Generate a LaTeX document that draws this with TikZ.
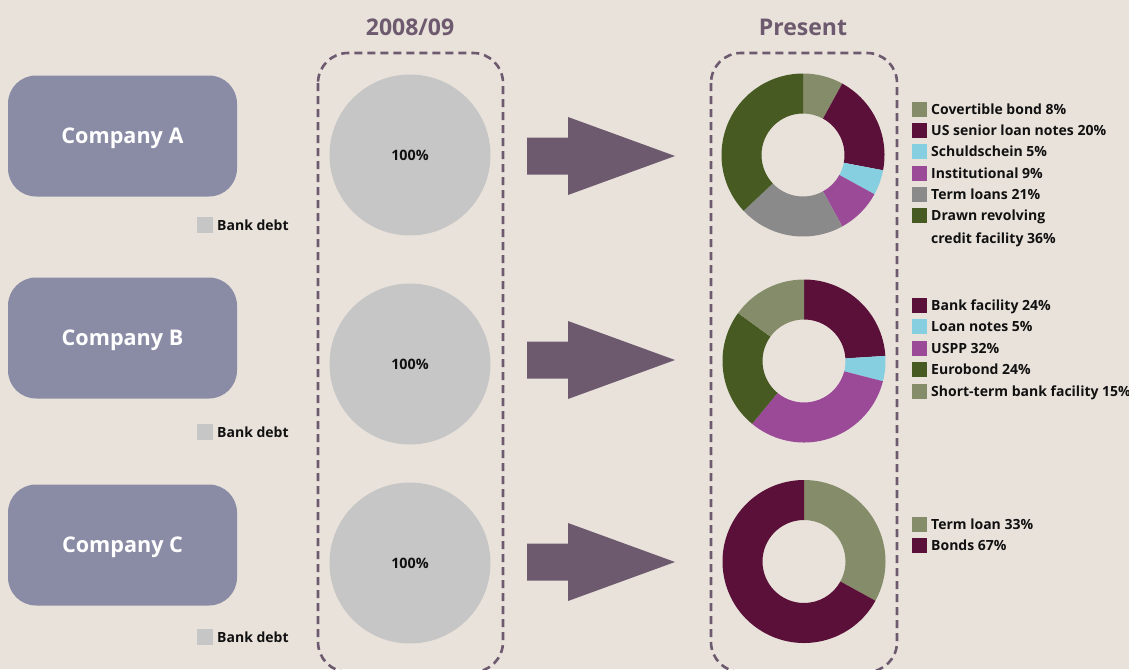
\documentclass[tikz,border=0pt]{standalone}
\usepackage{fontspec}
\setmainfont{Open Sans}
\usetikzlibrary{calc}
\definecolor{bg}{HTML}{E9E2DB}
\definecolor{compbox}{HTML}{8A8CA6}
\definecolor{arrowc}{HTML}{6E5A6E}
\definecolor{dashc}{HTML}{6E5A6E}
\definecolor{bankgray}{HTML}{C6C6C6}
\definecolor{olivec}{HTML}{848C69}
\definecolor{maroonc}{HTML}{5A1038}
\definecolor{lightbluec}{HTML}{85CFE0}
\definecolor{purpc}{HTML}{9B4A98}
\definecolor{midgrayc}{HTML}{8A8A8A}
\definecolor{darkgreenc}{HTML}{465A22}
\definecolor{titlec}{HTML}{6E5A6E}
\definecolor{textc}{HTML}{111111}

\newcommand{\seg}[4]{%
  \fill[#4] ($(#1)+({-90+3.6*#2}:81.5)$) arc[start angle={-90+3.6*#2}, end angle={-90+3.6*#3}, radius=81.5]
    -- ($(#1)+({-90+3.6*#3}:41.5)$) arc[start angle={-90+3.6*#3}, end angle={-90+3.6*#2}, radius=41.5] -- cycle;}
\newcommand{\legitem}[3]{%
  \fill[#2] (912,{#1-7.5}) rectangle ++(15,15);
  \node[legtext] at (931,{#1+5}) {#3};}
\newcommand{\bigarrow}[1]{%
  \fill[arrowc] (527,{#1-18.5}) -- (568,{#1-18.5}) -- (568,{#1-39}) -- (675,{#1}) -- (568,{#1+39}) -- (568,{#1+18.5}) -- (527,{#1+18.5}) -- cycle;}

\tikzset{
  company/.style={fill=compbox, rounded corners=28pt, minimum width=229pt, minimum height=121pt,
    text=white, font=\bfseries\fontsize{21.6}{24}\selectfont, inner sep=0pt,
    text height=15.4pt, text depth=0pt},
  bankcircle/.style={circle, fill=bankgray, minimum size=161pt, inner sep=0pt,
    font=\bfseries\fontsize{14.3}{16}\selectfont, text=textc, text height=10.2pt, text depth=0pt},
  donut/.style={circle, minimum size=163pt, inner sep=0pt},
  dashbox/.style={draw=dashc, line width=2.6pt, dash pattern=on 8pt off 5pt, rounded corners=30pt},
  title/.style={text=titlec, font=\bfseries\fontsize{23}{26}\selectfont, inner sep=0pt,
    text height=16.4pt, text depth=0pt},
  legtext/.style={anchor=base west, inner sep=0pt, text=textc, font=\bfseries\fontsize{14}{16}\selectfont},
}

\begin{document}
\begin{tikzpicture}[x=1pt,y=-1pt]
\useasboundingbox (0,0) rectangle (1129,669);
\clip (0,0) rectangle (1129,669);
\fill[bg] (0,0) rectangle (1129,669);

% titles
\node[title] (t1) at (410,27) {2008/09};
\node[title] (t2) at (803,27) {Present};

% dashed frames
\draw[dashbox] (318,53) rectangle (503,672);
\draw[dashbox] (711,53) rectangle (897,672);

% companies
\node[company] (cA) at (122.5,136) {Company A};
\node[company] (cB) at (122.5,338) {Company B};
\node[company] (cC) at (122.5,545) {Company C};

% bank debt legends
\foreach \yy in {225,432,637}{
  \fill[bankgray] (197,{\yy-8}) rectangle ++(16,16);
  \node[legtext] at (217,{\yy+5}) {Bank debt};
}

% 2008/09 circles
\node[bankcircle] (pA) at (410,155) {100\%};
\node[bankcircle] (pB) at (410,364) {100\%};
\node[bankcircle] (pC) at (410,563) {100\%};

% arrows
\bigarrow{156}
\bigarrow{360}
\bigarrow{562}

% donuts
\node[donut] (dA) at (803,155) {};
\node[donut] (dB) at (804,361) {};
\node[donut] (dC) at (804,561.5) {};

\seg{dA}{0}{8}{olivec}
\seg{dA}{8}{28}{maroonc}
\seg{dA}{28}{33}{lightbluec}
\seg{dA}{33}{42}{purpc}
\seg{dA}{42}{63}{midgrayc}
\seg{dA}{63}{100}{darkgreenc}

\seg{dB}{0}{24}{maroonc}
\seg{dB}{24}{29}{lightbluec}
\seg{dB}{29}{61}{purpc}
\seg{dB}{61}{85}{darkgreenc}
\seg{dB}{85}{100}{olivec}

\seg{dC}{0}{33}{olivec}
\seg{dC}{33}{100}{maroonc}

% legends
\legitem{109}{olivec}{Covertible bond 8\%}
\legitem{130.3}{maroonc}{US senior loan notes 20\%}
\legitem{151.6}{lightbluec}{Schuldschein 5\%}
\legitem{173}{purpc}{Institutional 9\%}
\legitem{194.3}{midgrayc}{Term loans 21\%}
\legitem{215.6}{darkgreenc}{Drawn revolving}
\node[legtext] at (931,{238+5}) {credit facility 36\%};

\legitem{305}{maroonc}{Bank facility 24\%}
\legitem{326.5}{lightbluec}{Loan notes 5\%}
\legitem{348}{purpc}{USPP 32\%}
\legitem{369.5}{darkgreenc}{Eurobond 24\%}
\legitem{391}{olivec}{Short-term bank facility 15\%}

\legitem{524}{olivec}{Term loan 33\%}
\legitem{545.5}{maroonc}{Bonds 67\%}
\end{tikzpicture}
\end{document}
